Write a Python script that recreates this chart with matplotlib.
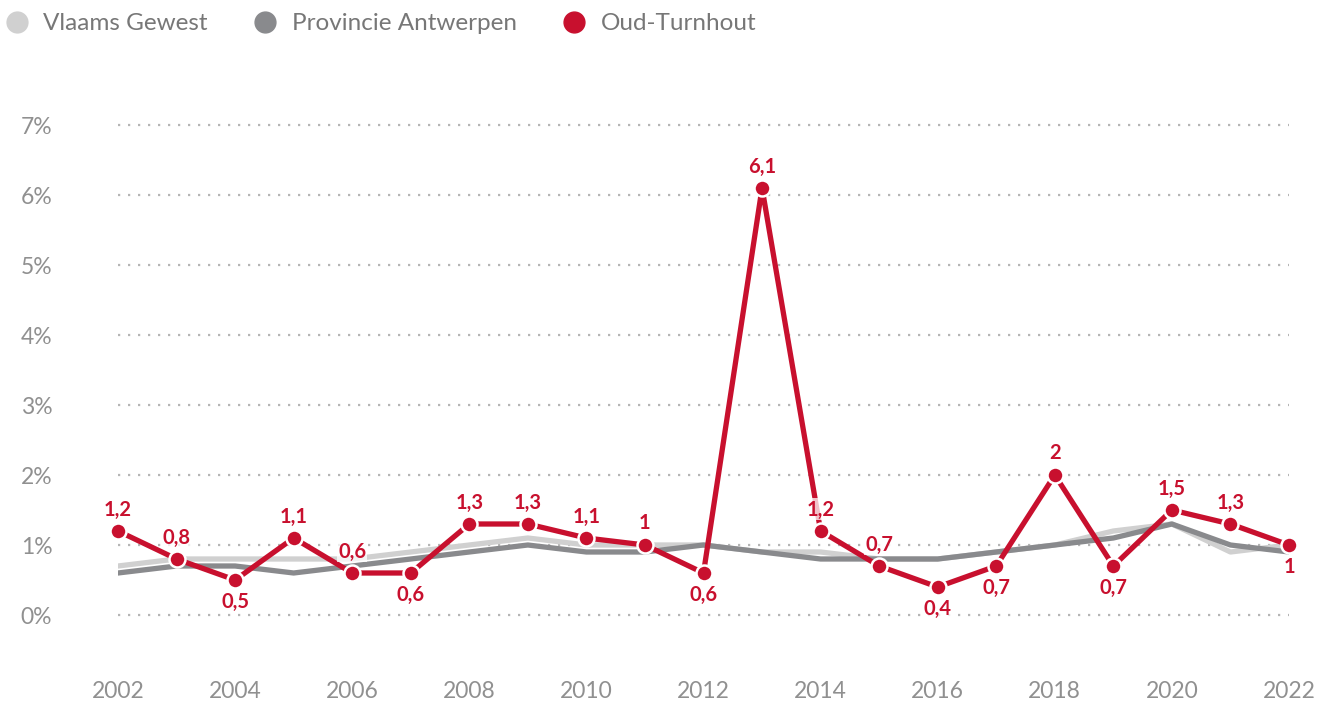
import matplotlib.pyplot as plt
from matplotlib.lines import Line2D

# data
jaren = list(range(2002, 2023))
vlaams = [0.7, 0.8, 0.8, 0.8, 0.8, 0.9, 1.0, 1.1, 1.0, 1.0, 1.0,
          0.9, 0.9, 0.8, 0.8, 0.9, 1.0, 1.2, 1.3, 0.9, 1.0]
antwerpen = [0.6, 0.7, 0.7, 0.6, 0.7, 0.8, 0.9, 1.0, 0.9, 0.9, 1.0,
             0.9, 0.8, 0.8, 0.8, 0.9, 1.0, 1.1, 1.3, 1.0, 0.9]
oud_turnhout = [1.2, 0.8, 0.5, 1.1, 0.6, 0.6, 1.3, 1.3, 1.1, 1.0, 0.6,
                6.1, 1.2, 0.7, 0.4, 0.7, 2.0, 0.7, 1.5, 1.3, 1.0]
# positie van het label: 1 = boven, -1 = onder
label_pos = [1, 1, -1, 1, 1, -1, 1, 1, 1, 1, -1,
             1, 1, 1, -1, -1, 1, -1, 1, 1, -1]
reeksen = ['Vlaams Gewest', 'Provincie Antwerpen', 'Oud-Turnhout']

rood = '#c8102e'
donkergrijs = '#898a8d'
lichtgrijs = '#d0d0d0'
tekstgrijs = '#909090'

plt.rcParams['font.family'] = ['Lato', 'DejaVu Sans']

fig = plt.figure(figsize=(13.3, 7.06), dpi=100)
ax = fig.add_axes([118 / 1330, 56 / 706, (1289 - 118) / 1330, 560 / 706])

ax.plot(jaren, vlaams, color=lichtgrijs, lw=3.8, zorder=2)
ax.plot(jaren, antwerpen, color=donkergrijs, lw=3.8, zorder=3)
ax.plot(jaren, oud_turnhout, color=rood, lw=3.8, zorder=4, marker='o', ms=11.5,
        markerfacecolor=rood, markeredgecolor='white', markeredgewidth=1.8, clip_on=False)

for x, y, p in zip(jaren, oud_turnhout, label_pos):
    txt = ('%g' % y).replace('.', ',')
    ax.annotate(txt, (x, y), xytext=(0, 15.5 * p), textcoords='offset points',
                ha='center', va='center', fontsize=14.5, fontweight='bold', color=rood,
                zorder=5, bbox=dict(boxstyle='square,pad=0.05', fc='white', ec='none', alpha=0.75))

ax.set_xlim(2002, 2022)
ax.set_ylim(-0.5, 7.5)
ax.set_yticks(range(0, 8))
ax.set_yticklabels([f'{i}%' for i in range(0, 8)])
ax.set_xticks(range(2002, 2023, 2))
ax.grid(axis='y', linestyle=(0, (1, 3.5)), color='#b5b5b5', lw=1.6)
ax.grid(axis='x', visible=False)
for s in ax.spines.values():
    s.set_visible(False)
ax.tick_params(axis='both', length=0, labelsize=16.5, labelcolor=tekstgrijs)
ax.tick_params(axis='x', pad=22)
ax.tick_params(axis='y', pad=70)
for lab in ax.get_yticklabels():
    lab.set_horizontalalignment('left')

handles = [Line2D([], [], ls='none', marker='o', ms=15, color=c)
           for c in [lichtgrijs, donkergrijs, rood]]
leg = fig.legend(handles, reeksen, loc='upper left', bbox_to_anchor=(-0.013, 1.012), ncol=3,
                 frameon=False, fontsize=17.5, handletextpad=0.6, columnspacing=1.85,
                 handlelength=1.0)
for t in leg.get_texts():
    t.set_color('#777777')

fig.savefig('out.png', dpi=100)
